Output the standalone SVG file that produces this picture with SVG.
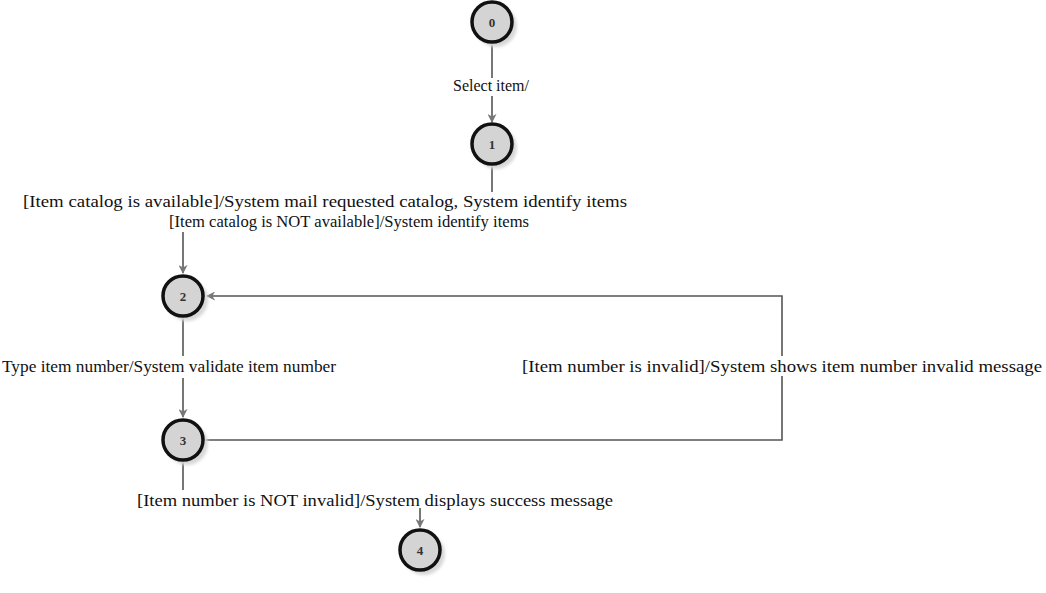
<svg xmlns="http://www.w3.org/2000/svg" width="1046" height="593" viewBox="0 0 1046 593">
<style>
.shadow{fill:#d8d8d8;stroke:none}
.state{fill:#d4d4d4;stroke:#111;stroke-width:3.5}
.num{font-family:"Liberation Serif",serif;font-size:13px;font-weight:bold;fill:#333;text-anchor:middle}
.lbl{font-family:"Liberation Serif",serif;font-size:16px;fill:#111}
.edge{fill:none;stroke:#555;stroke-width:1.6}
</style>
<defs>
<marker id="arr" viewBox="0 0 10 10" refX="9" refY="5" markerWidth="9" markerHeight="9" orient="auto" markerUnits="userSpaceOnUse">
<path d="M0,0 L10,5 L0,10 L3,5 z" fill="#777"/>
</marker>
<filter id="blur" x="-30%" y="-30%" width="160%" height="160%"><feGaussianBlur stdDeviation="1.5"/></filter>
</defs>
<rect width="1046" height="593" fill="#fff"/>

<g id="connectors">
<path class="edge" d="M492,43 V78"/>
<path class="edge" d="M492,96 V122" marker-end="url(#arr)"/>
<path class="edge" d="M492,165 V192"/>
<path class="edge" d="M183,232 V273" marker-end="url(#arr)"/>
<path class="edge" d="M183,317 V356"/>
<path class="edge" d="M183,378 V417" marker-end="url(#arr)"/>
<path class="edge" d="M204,440 H782 V376"/>
<path class="edge" d="M782,356 V296 H207" marker-end="url(#arr)"/>
<path class="edge" d="M183,461 V490"/>
<path class="edge" d="M420,508 V527" marker-end="url(#arr)"/>
<text class="lbl" x="491" y="91" text-anchor="middle" textLength="76" lengthAdjust="spacingAndGlyphs">Select item/</text>
<text class="lbl" x="325" y="207" text-anchor="middle" textLength="604" lengthAdjust="spacingAndGlyphs">[Item catalog is available]/System mail requested catalog, System identify items</text>
<text class="lbl" x="349" y="227" text-anchor="middle" textLength="360" lengthAdjust="spacingAndGlyphs">[Item catalog is NOT available]/System identify items</text>
<text class="lbl" x="169" y="372" text-anchor="middle" textLength="334" lengthAdjust="spacingAndGlyphs">Type item number/System validate item number</text>
<text class="lbl" x="782" y="372" text-anchor="middle" textLength="520" lengthAdjust="spacingAndGlyphs">[Item number is invalid]/System shows item number invalid message</text>
<text class="lbl" x="375" y="506" text-anchor="middle" textLength="476" lengthAdjust="spacingAndGlyphs">[Item number is NOT invalid]/System displays success message</text>
</g>

<g id="node0">
<circle class="shadow" cx="496" cy="26" r="21" filter="url(#blur)"/>
<circle class="state" cx="492" cy="22" r="20"/>
<text class="num" x="492" y="26.5">0</text>
</g>
<g id="node1">
<circle class="shadow" cx="496" cy="148" r="21" filter="url(#blur)"/>
<circle class="state" cx="492" cy="144" r="20"/>
<text class="num" x="492" y="148.5">1</text>
</g>
<g id="node2">
<circle class="shadow" cx="187" cy="300" r="21" filter="url(#blur)"/>
<circle class="state" cx="183" cy="296" r="20"/>
<text class="num" x="183" y="300.5">2</text>
</g>
<g id="node3">
<circle class="shadow" cx="187" cy="444" r="21" filter="url(#blur)"/>
<circle class="state" cx="183" cy="440" r="20"/>
<text class="num" x="183" y="444.5">3</text>
</g>
<g id="node4">
<circle class="shadow" cx="424" cy="554" r="21" filter="url(#blur)"/>
<circle class="state" cx="420" cy="550" r="20"/>
<text class="num" x="420" y="554.5">4</text>
</g>
</svg>
